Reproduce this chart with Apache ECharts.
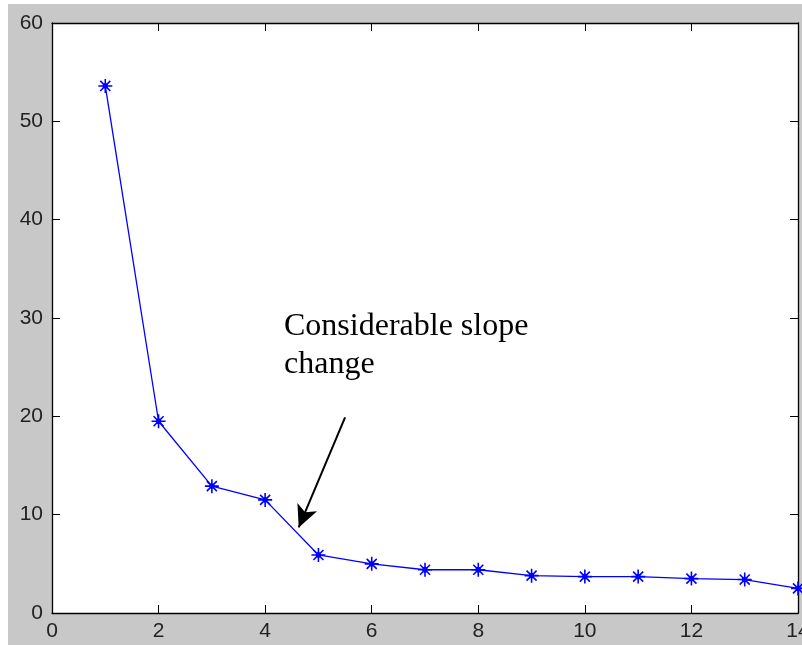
<!DOCTYPE html>
<html>
<head>
<meta charset="utf-8">
<script src="https://cdn.jsdelivr.net/npm/echarts@6/dist/echarts.min.js"></script>
<style>
  html, body { margin: 0; padding: 0; background: #fff; }
  #chart { position: absolute; left: 8px; top: 4px; width: 794px; height: 641px; }
</style>
</head>
<body>
<div id="chart"></div>
<script>
// component index vs. eigenvalue (scree plot)
var xValues = [1, 2, 3, 4, 5, 6, 7, 8, 9, 10, 11, 12, 13, 14];
var yValues = [53.6, 19.5, 12.9, 11.5, 5.9, 5.0, 4.4, 4.4, 3.8, 3.7, 3.7, 3.5, 3.4, 2.5];
var arrowFrom = [5.5, 19.9];
var arrowTo = [4.63, 8.7];
var noteText = 'Considerable slope\nchange';

// asterisk marker, drawn as strokes with a small filled centre
var star = 'path://M0,-6L0,6M-6,0L6,0M-4.3,-4.3L4.3,4.3M-4.3,4.3L4.3,-4.3M-1.6,-1.6L1.6,-1.6L1.6,1.6L-1.6,1.6Z';

var myChart = echarts.init(document.getElementById('chart'));

var tickStyle = { show: true, inside: true, length: 8, lineStyle: { color: '#000', width: 1 } };
var lineStyle = { show: true, onZero: false, lineStyle: { color: '#000', width: 1.3 } };
var labelStyle = { color: '#222', fontSize: 21, fontFamily: 'Liberation Sans, Arial, sans-serif' };

var option = {
    backgroundColor: '#c8c8c8',
    animation: false,
    grid: {
        left: 44, top: 19, right: 4, bottom: 32,
        outerBoundsMode: 'none', containLabel: false,
        backgroundColor: '#fff', show: true, borderWidth: 0
    },
    xAxis: [
        {
            type: 'value', min: 0, max: 14, interval: 2,
            axisLine: lineStyle, axisTick: tickStyle, splitLine: { show: false },
            axisLabel: Object.assign({ margin: 8 }, labelStyle)
        },
        {
            type: 'value', position: 'top', min: 0, max: 14, interval: 2,
            axisLine: lineStyle, axisTick: tickStyle, splitLine: { show: false },
            axisLabel: { show: false }
        }
    ],
    yAxis: [
        {
            type: 'value', min: 0, max: 60, interval: 10,
            axisLine: lineStyle, axisTick: tickStyle, splitLine: { show: false },
            axisLabel: Object.assign({ margin: 9 }, labelStyle)
        },
        {
            type: 'value', position: 'right', min: 0, max: 60, interval: 10,
            axisLine: lineStyle, axisTick: tickStyle, splitLine: { show: false },
            axisLabel: { show: false }
        }
    ],
    series: [
        {
            type: 'line',
            data: xValues.map(function (x, i) { return [x, yValues[i]]; }),
            symbol: star,
            symbolSize: 14,
            showAllSymbol: true,
            lineStyle: { color: '#0000ff', width: 1.3 },
            itemStyle: { color: '#0000ff', borderColor: '#0000ff', borderWidth: 1.6 },
            clip: false,
            markLine: {
                silent: true,
                symbol: ['none', 'arrow'],
                symbolSize: [16, 22],
                label: { show: false },
                lineStyle: { color: '#000', width: 2, type: 'solid' },
                data: [[{ coord: arrowFrom }, { coord: arrowTo }]]
            }
        }
    ],
    graphic: [
        {
            type: 'text',
            left: 276,
            top: 304,
            style: {
                text: noteText,
                font: '32px "Liberation Serif", "Times New Roman", serif',
                fill: '#000',
                lineHeight: 38
            }
        }
    ]
};

myChart.setOption(option);
</script>
</body>
</html>
